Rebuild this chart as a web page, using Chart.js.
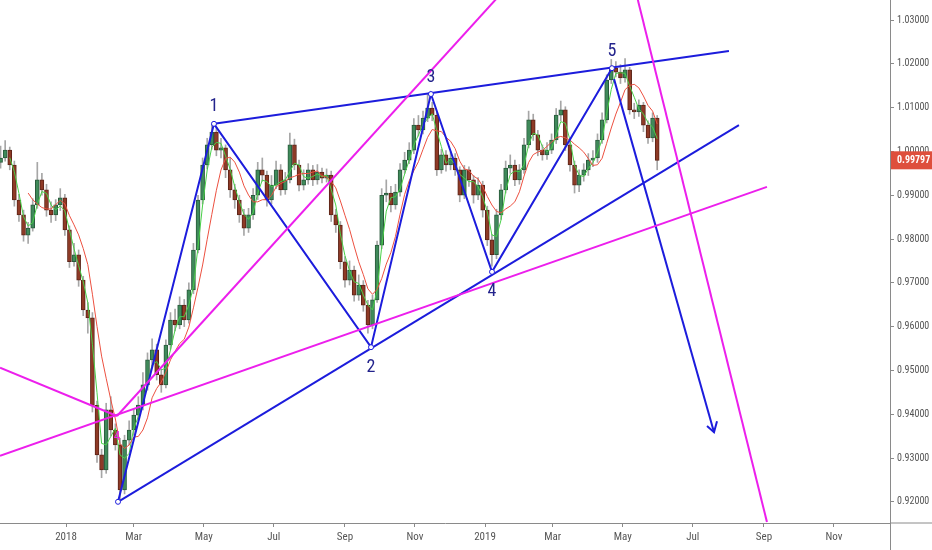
<!DOCTYPE html>
<html>
<head>
<meta charset="utf-8">
<script src="https://cdn.jsdelivr.net/npm/chart.js@4.4.0/dist/chart.umd.min.js"></script>
<style>
  html, body { margin: 0; padding: 0; background: #fff; }
  #wrap { width: 932px; height: 550px; }
</style>
</head>
<body>
<div id="wrap"><canvas id="chart" width="932" height="550"></canvas></div>
<script>
// price bars, one every 4 days; x = days since 1 Jan 2018
const firstBarDay = -57;
const barStep = 4;

const opens = [
  0.9975,0.9985,1.0003,0.9969,0.9889,0.9855,0.9809,0.9825,0.9878,0.9935,
  0.9912,0.9866,0.9855,0.9878,0.9894,0.9821,0.9748,0.9764,0.9706,0.9638,
  0.9620,0.9420,0.9307,0.9273,0.9410,0.9364,0.9330,0.9227,0.9341,0.9364,
  0.9398,0.9421,0.9467,0.9524,0.9547,0.9490,0.9467,0.9558,0.9615,0.9604,
  0.9649,0.9615,0.9684,0.9775,0.9889,0.9969,1.0015,1.0044,1.0003,1.0008,
  0.9958,0.9912,0.9889,0.9855,0.9825,0.9855,0.9900,0.9958,0.9946,0.9889,
  0.9923,0.9958,0.9912,0.9935,1.0015,0.9969,0.9923,0.9935,0.9958,0.9935,
  0.9953,0.9939,0.9946,0.9855,0.9832,0.9748,0.9706,0.9729,0.9672,0.9695,
  0.9649,0.9604,0.9661,0.9786,0.9900,0.9905,0.9878,0.9907,0.9958,0.9980,
  1.0003,1.0060,1.0049,1.0076,1.0099,1.0083,0.9958,0.9992,0.9969,0.9985,
  0.9958,0.9900,0.9958,0.9935,0.9900,0.9923,0.9866,0.9798,0.9764,0.9855,
  0.9912,0.9962,0.9969,0.9935,0.9958,1.0015,1.0072,1.0038,1.0003,0.9992,
  1.0003,1.0026,1.0083,1.0095,1.0015,0.9969,0.9923,0.9946,0.9958,0.9980,
  0.9985,1.0026,1.0072,1.0163,1.0190,1.0181,1.0168,1.0186,1.0095,1.0090,
  1.0106,1.0060,1.0031,1.0076
];
const highs = [
  1.0012,1.0025,1.0010,0.9978,0.9902,0.9866,0.9838,0.9892,0.9975,0.9950,
  0.9925,0.9885,0.9890,0.9915,0.9902,0.9830,0.9790,0.9775,0.9715,0.9655,
  0.9632,0.9430,0.9320,0.9425,0.9440,0.9378,0.9345,0.9352,0.9385,0.9412,
  0.9440,0.9495,0.9540,0.9572,0.9560,0.9502,0.9570,0.9632,0.9640,0.9668,
  0.9662,0.9700,0.9790,0.9900,0.9985,1.0030,1.0062,1.0055,1.0030,1.0015,
  0.9985,0.9925,0.9900,0.9868,0.9870,0.9915,0.9975,0.9985,0.9955,0.9945,
  0.9978,0.9970,0.9952,1.0042,1.0028,0.9980,0.9958,0.9972,0.9968,0.9970,
  0.9962,0.9960,0.9955,0.9868,0.9840,0.9760,0.9750,0.9738,0.9718,0.9705,
  0.9660,0.9672,0.9795,0.9915,0.9935,0.9920,0.9925,0.9972,0.9998,1.0020,
  1.0075,1.0082,1.0092,1.0130,1.0112,1.0090,1.0005,1.0002,1.0000,0.9995,
  0.9965,0.9968,0.9965,0.9945,0.9940,0.9932,0.9875,0.9810,0.9868,0.9925,
  0.9978,0.9992,0.9980,0.9970,1.0030,1.0092,1.0085,1.0048,1.0015,1.0020,
  1.0040,1.0098,1.0115,1.0102,1.0025,0.9978,0.9958,0.9972,0.9995,1.0002,
  1.0040,1.0088,1.0175,1.0210,1.0205,1.0198,1.0212,1.0192,1.0110,1.0118,
  1.0112,1.0070,1.0088,1.0082
];
const lows = [
  0.9962,0.9978,0.9958,0.9875,0.9840,0.9795,0.9790,0.9818,0.9870,0.9900,
  0.9852,0.9838,0.9842,0.9865,0.9808,0.9735,0.9738,0.9692,0.9625,0.9585,
  0.9405,0.9290,0.9255,0.9265,0.9350,0.9318,0.9205,0.9218,0.9330,0.9352,
  0.9385,0.9410,0.9455,0.9510,0.9478,0.9450,0.9460,0.9548,0.9590,0.9595,
  0.9600,0.9608,0.9675,0.9768,0.9880,0.9960,1.0005,0.9990,0.9985,0.9940,
  0.9895,0.9870,0.9838,0.9808,0.9815,0.9845,0.9890,0.9932,0.9875,0.9880,
  0.9915,0.9900,0.9902,0.9928,0.9958,0.9910,0.9912,0.9925,0.9922,0.9925,
  0.9928,0.9930,0.9840,0.9815,0.9732,0.9690,0.9695,0.9658,0.9660,0.9635,
  0.9585,0.9595,0.9655,0.9778,0.9885,0.9862,0.9868,0.9898,0.9950,0.9972,
  0.9995,1.0035,1.0040,1.0068,1.0070,0.9945,0.9950,0.9955,0.9958,0.9945,
  0.9885,0.9892,0.9920,0.9882,0.9890,0.9850,0.9785,0.9738,0.9755,0.9845,
  0.9905,0.9950,0.9922,0.9925,0.9950,1.0008,1.0025,0.9990,0.9980,0.9982,
  0.9995,1.0018,1.0070,1.0002,0.9955,0.9905,0.9908,0.9932,0.9945,0.9965,
  0.9975,1.0018,1.0065,1.0155,1.0170,1.0155,1.0158,1.0085,1.0075,1.0080,
  1.0045,1.0018,1.0022,0.9958
];
const closes = [
  0.9985,1.0003,0.9969,0.9889,0.9855,0.9809,0.9825,0.9878,0.9935,0.9912,
  0.9866,0.9855,0.9878,0.9894,0.9821,0.9748,0.9764,0.9706,0.9638,0.9620,
  0.9420,0.9307,0.9273,0.9410,0.9364,0.9330,0.9227,0.9341,0.9364,0.9398,
  0.9421,0.9467,0.9524,0.9547,0.9490,0.9467,0.9558,0.9615,0.9604,0.9649,
  0.9615,0.9684,0.9775,0.9889,0.9969,1.0015,1.0044,1.0003,1.0008,0.9958,
  0.9912,0.9889,0.9855,0.9825,0.9855,0.9900,0.9958,0.9946,0.9889,0.9923,
  0.9958,0.9912,0.9935,1.0015,0.9969,0.9923,0.9935,0.9958,0.9935,0.9953,
  0.9939,0.9946,0.9855,0.9832,0.9748,0.9706,0.9729,0.9672,0.9695,0.9649,
  0.9604,0.9661,0.9786,0.9900,0.9905,0.9878,0.9907,0.9958,0.9980,1.0003,
  1.0060,1.0049,1.0076,1.0099,1.0083,0.9958,0.9992,0.9969,0.9985,0.9958,
  0.9900,0.9958,0.9935,0.9900,0.9923,0.9866,0.9798,0.9764,0.9855,0.9912,
  0.9962,0.9969,0.9935,0.9958,1.0015,1.0072,1.0038,1.0003,0.9992,1.0003,
  1.0026,1.0083,1.0095,1.0015,0.9969,0.9923,0.9946,0.9958,0.9980,0.9985,
  1.0026,1.0072,1.0163,1.0190,1.0181,1.0168,1.0186,1.0095,1.0090,1.0106,
  1.0060,1.0031,1.0076,0.99797
];
const lastPrice = 0.99797;

// axes
const monthTickDays   = [0, 59, 120, 181, 243, 304, 365, 424, 485, 546, 608, 669];
const monthTickLabels = ['2018','Mar','May','Jul','Sep','Nov','2019','Mar','May','Jul','Sep','Nov'];
const priceTicks = [0.92,0.93,0.94,0.95,0.96,0.97,0.98,0.99,1.00,1.01,1.02,1.03];

// wave count pivots (day, price)
const waveNames  = ['', '1', '2', '3', '4', '5'];
const waveDays   = [45.3, 128.9, 265.7, 317.9, 371.1, 475.6];
const wavePrices = [0.9200, 1.0063, 0.9553, 1.0131, 0.9725, 1.0190];

// drawn trend lines [day, price]
const upperLine  = [[128.9, 1.0063], [577.5, 1.0229]];
const lowerLine  = [[45.3, 0.9200], [586.2, 1.0060]];
const arrowLine  = [[477.4, 1.0165], [564.5, 0.9359]];
const arrowHead  = [[558.4, 0.9373], [564.5, 0.9359], [567.1, 0.9384]];
const pinkLeft   = [[-57.5, 0.9506], [44.4, 0.9396]];
const pinkSteep  = [[44.4, 0.9396], [412.9, 1.0458]];
const pinkLower  = [[-57.5, 0.9305], [610.6, 0.9919]];
const pinkDown   = [[493.9, 1.0391], [610.6, 0.9154]];

const BLUE = '#1c1cdc';
const PINK = '#ec1fec';
const FONT = '"Liberation Sans Narrow", "Roboto Condensed", "Liberation Sans", sans-serif';

const barDays = closes.map((_, i) => firstBarDay + barStep * i);
const isUp = closes.map((c, i) => c >= opens[i]);

// simple moving averages like the two on the chart
function sma(values, n) {
  return values.map((v, i) => {
    if (i < n - 1) return null;
    let s = 0;
    for (let k = i - n + 1; k <= i; k++) s += values[k];
    return s / n;
  });
}
const maFast = sma(closes, 3);
const maSlow = sma(closes, 7);

function seg(points, color, width) {
  return {
    type: 'line',
    data: points.map(p => ({ x: p[0], y: p[1] })),
    borderColor: color,
    borderWidth: width || 2,
    pointRadius: 0,
    pointHoverRadius: 0,
    fill: false,
    tension: 0,
    order: 2
  };
}

const drawPlugin = {
  id: 'drawPlugin',
  afterDatasetsDraw(chart) {
    const { ctx, scales: { x, y } } = chart;
    ctx.save();
    ctx.font = '18px ' + FONT;
    ctx.fillStyle = '#23238c';
    ctx.textAlign = 'center';
    ctx.textBaseline = 'middle';
    waveNames.forEach((n, i) => {
      if (!n) return;
      const px = x.getPixelForValue(waveDays[i]);
      const py = y.getPixelForValue(wavePrices[i]);
      ctx.fillText(n, px, py + (i % 2 === 1 ? -17 : 20));
    });
    // small magenta mark under the fan origin
    ctx.font = '13px ' + FONT;
    ctx.fillStyle = PINK;
    ctx.fillText('4', x.getPixelForValue(pinkLeft[1][0]), y.getPixelForValue(pinkLeft[1][1]) + 21);
    ctx.restore();
  },
  afterDraw(chart) {
    const { ctx, chartArea: a, scales: { y } } = chart;
    const W = chart.width, H = chart.height;
    ctx.save();
    ctx.strokeStyle = '#8a8a8a';
    ctx.lineWidth = 1;
    ctx.beginPath();
    ctx.moveTo(a.right, a.bottom); ctx.lineTo(W, a.bottom);
    ctx.moveTo(a.right + 0.5, a.bottom); ctx.lineTo(a.right + 0.5, H);
    ctx.stroke();
    // last price label
    const py = y.getPixelForValue(lastPrice);
    ctx.fillStyle = '#de4f3c';
    ctx.fillRect(a.right + 1, py - 9, W - a.right - 1, 18);
    ctx.fillStyle = '#fff';
    ctx.font = 'bold 10px ' + FONT;
    ctx.textAlign = 'left';
    ctx.textBaseline = 'middle';
    ctx.fillText(lastPrice.toFixed(5), a.right + 7, py + 0.5);
    ctx.restore();
  }
};

new Chart(document.getElementById('chart'), {
  type: 'line',
  data: {
    datasets: [
      {
        type: 'bar',
        data: barDays.map((d, i) => ({ x: d, y: [lows[i], highs[i]] })),
        backgroundColor: '#a6a6a6',
        barThickness: 1,
        grouped: false,
        order: 10
      },
      {
        type: 'bar',
        data: barDays.map((d, i) => ({ x: d, y: [opens[i], closes[i]] })),
        backgroundColor: isUp.map(u => u ? '#3f8a5a' : '#8e3a26'),
        borderColor: isUp.map(u => u ? '#2a5a3c' : '#5c2418'),
        borderWidth: 1,
        borderSkipped: false,
        barThickness: 4,
        grouped: false,
        order: 9
      },
      {
        data: barDays.map((d, i) => ({ x: d, y: maFast[i] })),
        borderColor: '#48d048', borderWidth: 1, pointRadius: 0, pointHoverRadius: 0, tension: 0, order: 6
      },
      {
        data: barDays.map((d, i) => ({ x: d, y: maSlow[i] })),
        borderColor: '#ec5040', borderWidth: 1, pointRadius: 0, pointHoverRadius: 0, tension: 0, order: 5
      },
      seg(pinkLeft, PINK), seg(pinkSteep, PINK), seg(pinkLower, PINK), seg(pinkDown, PINK),
      seg(upperLine, BLUE), seg(lowerLine, BLUE),
      seg([[waveDays[0], wavePrices[0]], [waveDays[1], wavePrices[1]], [waveDays[2], wavePrices[2]],
           [waveDays[3], wavePrices[3]], [waveDays[4], wavePrices[4]], [waveDays[5], wavePrices[5]]], BLUE),
      seg(arrowLine, BLUE), seg(arrowHead, BLUE),
      {
        data: waveDays.map((d, i) => ({ x: d, y: wavePrices[i] })),
        showLine: false,
        pointRadius: 2.5,
        pointHoverRadius: 2.5,
        pointBackgroundColor: '#ffffff',
        pointBorderColor: BLUE,
        pointBorderWidth: 1,
        order: 0
      }
    ]
  },
  options: {
    responsive: false,
    animation: false,
    layout: { padding: 0, autoPadding: false },
    plugins: { legend: { display: false }, tooltip: { enabled: false } },
    scales: {
      x: {
        type: 'linear',
        min: -57.5,
        max: 717.8,
        offset: false,
        afterBuildTicks: s => { s.ticks = monthTickDays.map(v => ({ value: v })); },
        afterFit: s => { s.height = 27; s.paddingLeft = 0; s.paddingRight = 0; },
        ticks: {
          callback: (v, i) => monthTickLabels[i],
          color: '#555', font: { family: FONT, size: 11 }, padding: 4,
          maxRotation: 0, autoSkip: false
        },
        grid: { drawOnChartArea: false, offset: false, tickLength: 4, color: '#8a8a8a' },
        border: { color: '#8a8a8a' }
      },
      y: {
        position: 'right',
        min: 0.91516,
        max: 1.03457,
        afterBuildTicks: s => { s.ticks = priceTicks.map(v => ({ value: v })); },
        afterFit: s => { s.width = 42; s.paddingTop = 0; s.paddingBottom = 0; },
        ticks: {
          callback: v => v.toFixed(5),
          color: '#555', font: { family: FONT, size: 10 }, padding: 3
        },
        grid: { drawOnChartArea: false, tickLength: 4, color: '#8a8a8a' },
        border: { color: '#8a8a8a' }
      }
    }
  },
  plugins: [drawPlugin]
});
</script>
</body>
</html>
